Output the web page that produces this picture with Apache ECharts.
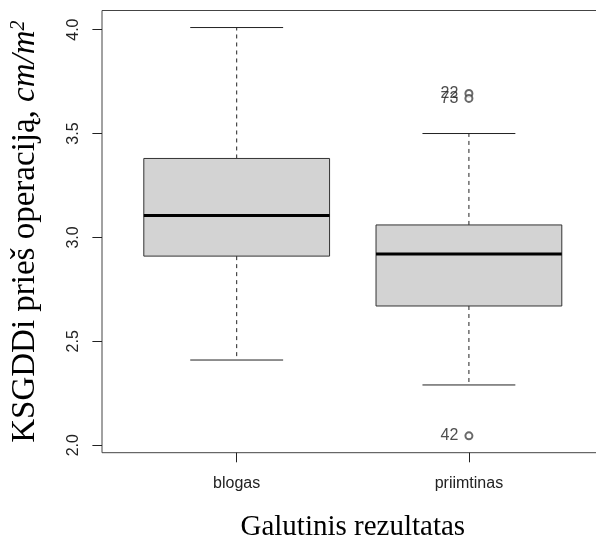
<!DOCTYPE html>
<html>
<head>
<meta charset="utf-8">
<script src="https://cdn.jsdelivr.net/npm/echarts@6/dist/echarts.min.js"></script>
<style>
  html, body { margin: 0; padding: 0; background: #fff; }
  #chart { width: 596px; height: 539px; }
</style>
</head>
<body>
<div id="chart"></div>
<script>
// Box plot summary per outcome group
const categories = ['blogas', 'priimtinas'];
const lowerWhisker = [2.41, 2.29];
const lowerQuartile = [2.91, 2.67];
const medians = [3.105, 2.92];
const upperQuartile = [3.38, 3.06];
const upperWhisker = [4.01, 3.50];

// Outlying observations: group index (1-based), value, case number
const outlierGroup = [2, 2, 2];
const outlierValue = [3.693, 3.669, 2.045];
const outlierId = ['22', '73', '42'];

const yTicks = [2.0, 2.5, 3.0, 3.5, 4.0];
const xTicks = [1, 2];

const boxData = categories.map((c, i) => [
  i + 1, lowerWhisker[i], lowerQuartile[i], medians[i], upperQuartile[i], upperWhisker[i]
]);
const outlierData = outlierValue.map((v, i) => [outlierGroup[i], v, outlierId[i]]);

const BOX_HALF = 0.4;   // half box width in x units
const CAP_HALF = 0.2;   // half whisker cap width
const INK = '#222';

function renderBox(params, api) {
  const x = api.value(0);
  const lw = api.value(1), q1 = api.value(2), med = api.value(3), q3 = api.value(4), uw = api.value(5);
  const p = (xx, yy) => api.coord([xx, yy]);
  const tl = p(x - BOX_HALF, q3), br = p(x + BOX_HALF, q1);
  const line = (a, b, style) => ({
    type: 'line',
    shape: { x1: a[0], y1: a[1], x2: b[0], y2: b[1] },
    style: Object.assign({ stroke: INK, lineWidth: 1 }, style || {})
  });
  return {
    type: 'group',
    children: [
      line(p(x, q3), p(x, uw), { lineDash: [4, 4] }),
      line(p(x, q1), p(x, lw), { lineDash: [4, 4] }),
      line(p(x - CAP_HALF, uw), p(x + CAP_HALF, uw)),
      line(p(x - CAP_HALF, lw), p(x + CAP_HALF, lw)),
      {
        type: 'rect',
        shape: { x: tl[0], y: tl[1], width: br[0] - tl[0], height: br[1] - tl[1] },
        style: { fill: '#d3d3d3', stroke: '#333', lineWidth: 1 }
      },
      line(p(x - BOX_HALF, med), p(x + BOX_HALF, med), { stroke: '#000', lineWidth: 3 })
    ]
  };
}

const chart = echarts.init(document.getElementById('chart'), null, { renderer: 'canvas' });
chart.setOption({
  animation: false,
  backgroundColor: '#fff',
  grid: {
    left: 102, top: 10.5, width: 501.6, height: 442.2,
    containLabel: false,
    outerBoundsMode: 'none',
    show: true, borderColor: '#444', borderWidth: 1, backgroundColor: 'transparent'
  },
  xAxis: {
    type: 'value',
    min: 0.42, max: 2.58,
    name: 'Galutinis rezultatas',
    nameLocation: 'middle',
    nameGap: 60,
    nameTextStyle: { fontFamily: 'Liberation Serif', fontSize: 29, color: '#000' },
    axisLine: { show: false },
    splitLine: { show: false },
    axisTick: { show: true, customValues: xTicks, length: 9.6, lineStyle: { color: INK } },
    axisLabel: {
      customValues: xTicks,
      margin: 23,
      fontFamily: 'Liberation Sans', fontSize: 16, color: INK,
      formatter: v => categories[Math.round(v) - 1] || ''
    }
  },
  yAxis: {
    type: 'value',
    min: 1.964, max: 4.092,
    name: '{n|KSGDDi prieš operaciją, }{i|cm/m}{s|2}',
    nameLocation: 'middle',
    nameGap: 60,
    nameRotate: 90,
    nameTextStyle: {
      fontFamily: 'Liberation Serif', fontSize: 33, color: '#000',
      rich: {
        n: { fontFamily: 'Liberation Serif', fontSize: 33, color: '#000' },
        i: { fontFamily: 'Liberation Serif', fontSize: 33, fontStyle: 'italic', color: '#000' },
        s: { fontFamily: 'Liberation Serif', fontSize: 20, fontStyle: 'italic', color: '#000', verticalAlign: 'top' }
      }
    },
    axisLine: { show: false },
    splitLine: { show: false },
    axisTick: { show: true, customValues: yTicks, length: 9.6, lineStyle: { color: INK } },
    axisLabel: {
      customValues: yTicks,
      rotate: 90,
      margin: 20,
      fontFamily: 'Liberation Sans', fontSize: 16, color: INK,
      formatter: v => v.toFixed(1)
    }
  },
  series: [
    {
      type: 'custom',
      renderItem: renderBox,
      encode: { x: 0, y: [1, 2, 3, 4, 5] },
      data: boxData,
      z: 2
    },
    {
      type: 'scatter',
      data: outlierData,
      symbol: 'emptyCircle',
      symbolSize: 7,
      itemStyle: { color: '#444', borderColor: '#444', borderWidth: 1 },
      label: {
        show: true, position: 'left', distance: 6,
        formatter: p => p.data[2],
        fontFamily: 'Liberation Sans', fontSize: 16, color: INK
      },
      z: 3
    }
  ]
});
</script>
</body>
</html>
